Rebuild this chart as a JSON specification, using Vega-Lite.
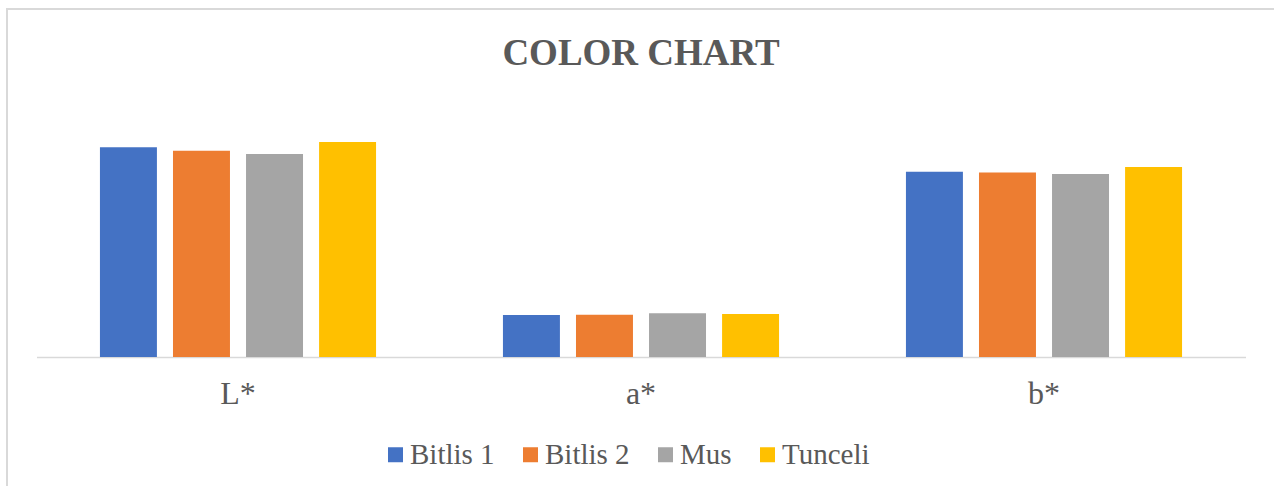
{
  "$schema": "https://vega.github.io/schema/vega-lite/v6.json",
  "autosize": {"type": "none"},
  "padding": {"left": 7, "top": 9, "right": 0, "bottom": 0},
  "width": 1400,
  "height": 480,
  "background": "white",
  "title": {
    "text": "COLOR CHART",
    "font": "Liberation Serif",
    "fontSize": 37,
    "fontWeight": "bold",
    "color": "#595959",
    "anchor": "middle",
    "frame": "group",
    "offset": -64,
    "dx": -66
  },
  "config": {
    "view": {"stroke": "#d9d9d9", "strokeWidth": 2},
    "axis": {"grid": false}
  },
  "data": {
    "values": [
      {"param": "L*", "site": "Bitlis 1", "value": 59.9},
      {"param": "L*", "site": "Bitlis 2", "value": 58.9},
      {"param": "L*", "site": "Mus", "value": 58.0},
      {"param": "L*", "site": "Tunceli", "value": 61.4},
      {"param": "a*", "site": "Bitlis 1", "value": 12.0},
      {"param": "a*", "site": "Bitlis 2", "value": 12.1},
      {"param": "a*", "site": "Mus", "value": 12.5},
      {"param": "a*", "site": "Tunceli", "value": 12.3},
      {"param": "b*", "site": "Bitlis 1", "value": 52.9},
      {"param": "b*", "site": "Bitlis 2", "value": 52.7},
      {"param": "b*", "site": "Mus", "value": 52.3},
      {"param": "b*", "site": "Tunceli", "value": 54.3}
    ]
  },
  "mark": {"type": "bar"},
  "encoding": {
    "x": {
      "field": "param",
      "type": "nominal",
      "sort": ["L*", "a*", "b*"],
      "scale": {"range": [29.5, 1238.5], "paddingInner": 0.275, "paddingOuter": 0.1375},
      "axis": {
        "title": null,
        "orient": "bottom",
        "offset": -132,
        "labelAngle": 0,
        "labelFont": "Liberation Serif",
        "labelFontSize": 32,
        "labelColor": "#595959",
        "labelPadding": 21,
        "ticks": false,
        "domainColor": "#d9d9d9",
        "domainWidth": 1.5
      }
    },
    "xOffset": {
      "field": "site",
      "type": "nominal",
      "sort": ["Bitlis 1", "Bitlis 2", "Mus", "Tunceli"],
      "scale": {"paddingInner": 0.22, "paddingOuter": 0.11}
    },
    "y": {
      "field": "value",
      "type": "quantitative",
      "scale": {"domain": [0, 80], "range": [348, 68], "nice": false},
      "axis": null
    },
    "color": {
      "field": "site",
      "type": "nominal",
      "sort": ["Bitlis 1", "Bitlis 2", "Mus", "Tunceli"],
      "scale": {"range": ["#4472C4", "#ED7D31", "#A5A5A5", "#FFC000"]},
      "legend": {
        "title": null,
        "orient": "none",
        "direction": "horizontal",
        "legendX": 374,
        "legendY": 431,
        "padding": 0,
        "symbolType": "square",
        "symbolSize": 225,
        "symbolStrokeWidth": 0,
        "labelFont": "Liberation Serif",
        "labelFontSize": 29,
        "labelColor": "#595959",
        "labelOffset": 0,
        "columnPadding": 21,
        "labelLimit": 300
      }
    }
  }
}
